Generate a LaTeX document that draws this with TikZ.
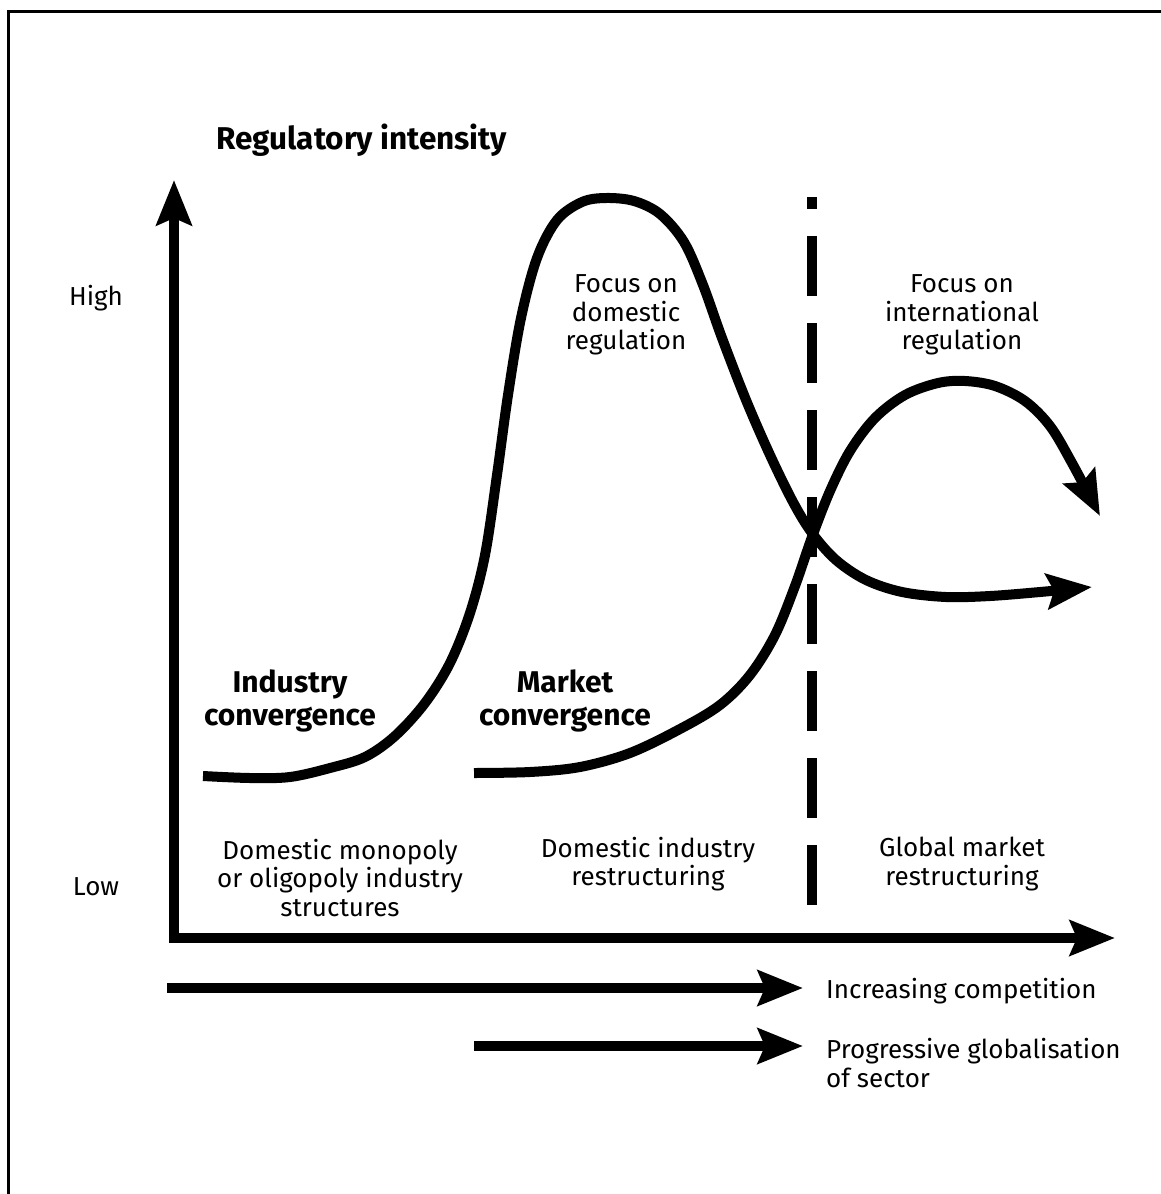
\documentclass[tikz,border=0pt]{standalone}
\usepackage{fontspec}
\setmainfont{Fira Sans}
\usetikzlibrary{arrows.meta}
\begin{document}
\begin{tikzpicture}[x=1pt,y=-1pt,
  heavy/.style={line width=10pt},
  tipped/.style={heavy,-{Stealth[length=45pt,width=35pt,inset=7pt]}},
  lbl/.style={font=\fontsize{26}{28.5}\selectfont, align=center, inner sep=0pt},
  biglbl/.style={font=\bfseries\fontsize{30}{33}\selectfont, align=center, inner sep=0pt}]
\useasboundingbox (0,0) rectangle (1160,1194);
% outer frame (only top and left edges fall on the page)
\draw[line width=3pt] (8,1300) -- (8,11) -- (1300,11);

% axes
\coordinate (ytip) at (174,180);
\coordinate (origin) at (174,938);
\coordinate (xtip) at (1115,938);
\draw[heavy,{Stealth[length=45pt,width=35pt,inset=7pt]}-{Stealth[length=45pt,width=35pt,inset=7pt]}] (ytip) -- (origin) -- (xtip);

\node[font=\bfseries\fontsize{31.5}{34}\selectfont, anchor=west, inner sep=0pt] (title) at (216,140) {Regulatory intensity};
\node[lbl] (high) at (96,298) {High};
\node[lbl] (low) at (96,887) {Low};

% phase boundary
\draw[line width=10pt] (812,197) -- (812,209);
\draw[line width=10pt, dash pattern=on 60pt off 27pt] (812,236) -- (812,905);

% industry convergence curve
\draw[tipped] plot[smooth, tension=0.55] coordinates {
  (203,776) (250,778) (290,777) (330,768) (365,757) (395,736) (425,703)
  (450,663) (470,613) (485,555) (497,475) (508,395) (521,318) (537,258)
  (557,220) (582,202) (606,198) (634,201) (660,214) (684,242) (703,285)
  (722,338) (746,400) (770,455) (793,502) (812,533) (836,560) (866,580)
  (902,592) (946,597) (990,596) (1040,592) (1092,587)};

% market convergence curve
\draw[tipped] plot[smooth, tension=0.55] coordinates {
  (474,773) (530,772) (580,767) (630,753) (680,729) (720,705) (750,675)
  (775,635) (795,586) (812,537) (830,491) (850,451) (875,418) (905,395)
  (938,383) (965,381) (995,386) (1025,401) (1050,426) (1072,463) (1100,516)};

\node[lbl] (domfocus) at (626,315) {Focus on\\domestic\\regulation};
\node[lbl] (intfocus) at (962,315) {Focus on\\international\\regulation};
\node[biglbl] (indconv) at (290,701) {Industry\\convergence};
\node[biglbl] (mktconv) at (565,701) {Market\\convergence};

\node[lbl] (phase1) at (340,878) {Domestic monopoly\\or oligopoly industry\\structures};
\node[lbl] (phase2) at (648,864) {Domestic industry\\restructuring};
\node[lbl] (phase3) at (962,864) {Global market\\restructuring};

% trend arrows
\node[lbl, anchor=west] (comp) at (826,991) {Increasing competition};
\node[lbl, anchor=west, align=left] (glob) at (826,1063) {Progressive globalisation\\of sector};
\coordinate (compstart) at (167,988);
\coordinate (compend) at (803,988);
\coordinate (globstart) at (474,1046);
\coordinate (globend) at (803,1046);
\draw[tipped] (compstart) -- (compend);
\draw[tipped] (globstart) -- (globend);
\end{tikzpicture}
\end{document}
